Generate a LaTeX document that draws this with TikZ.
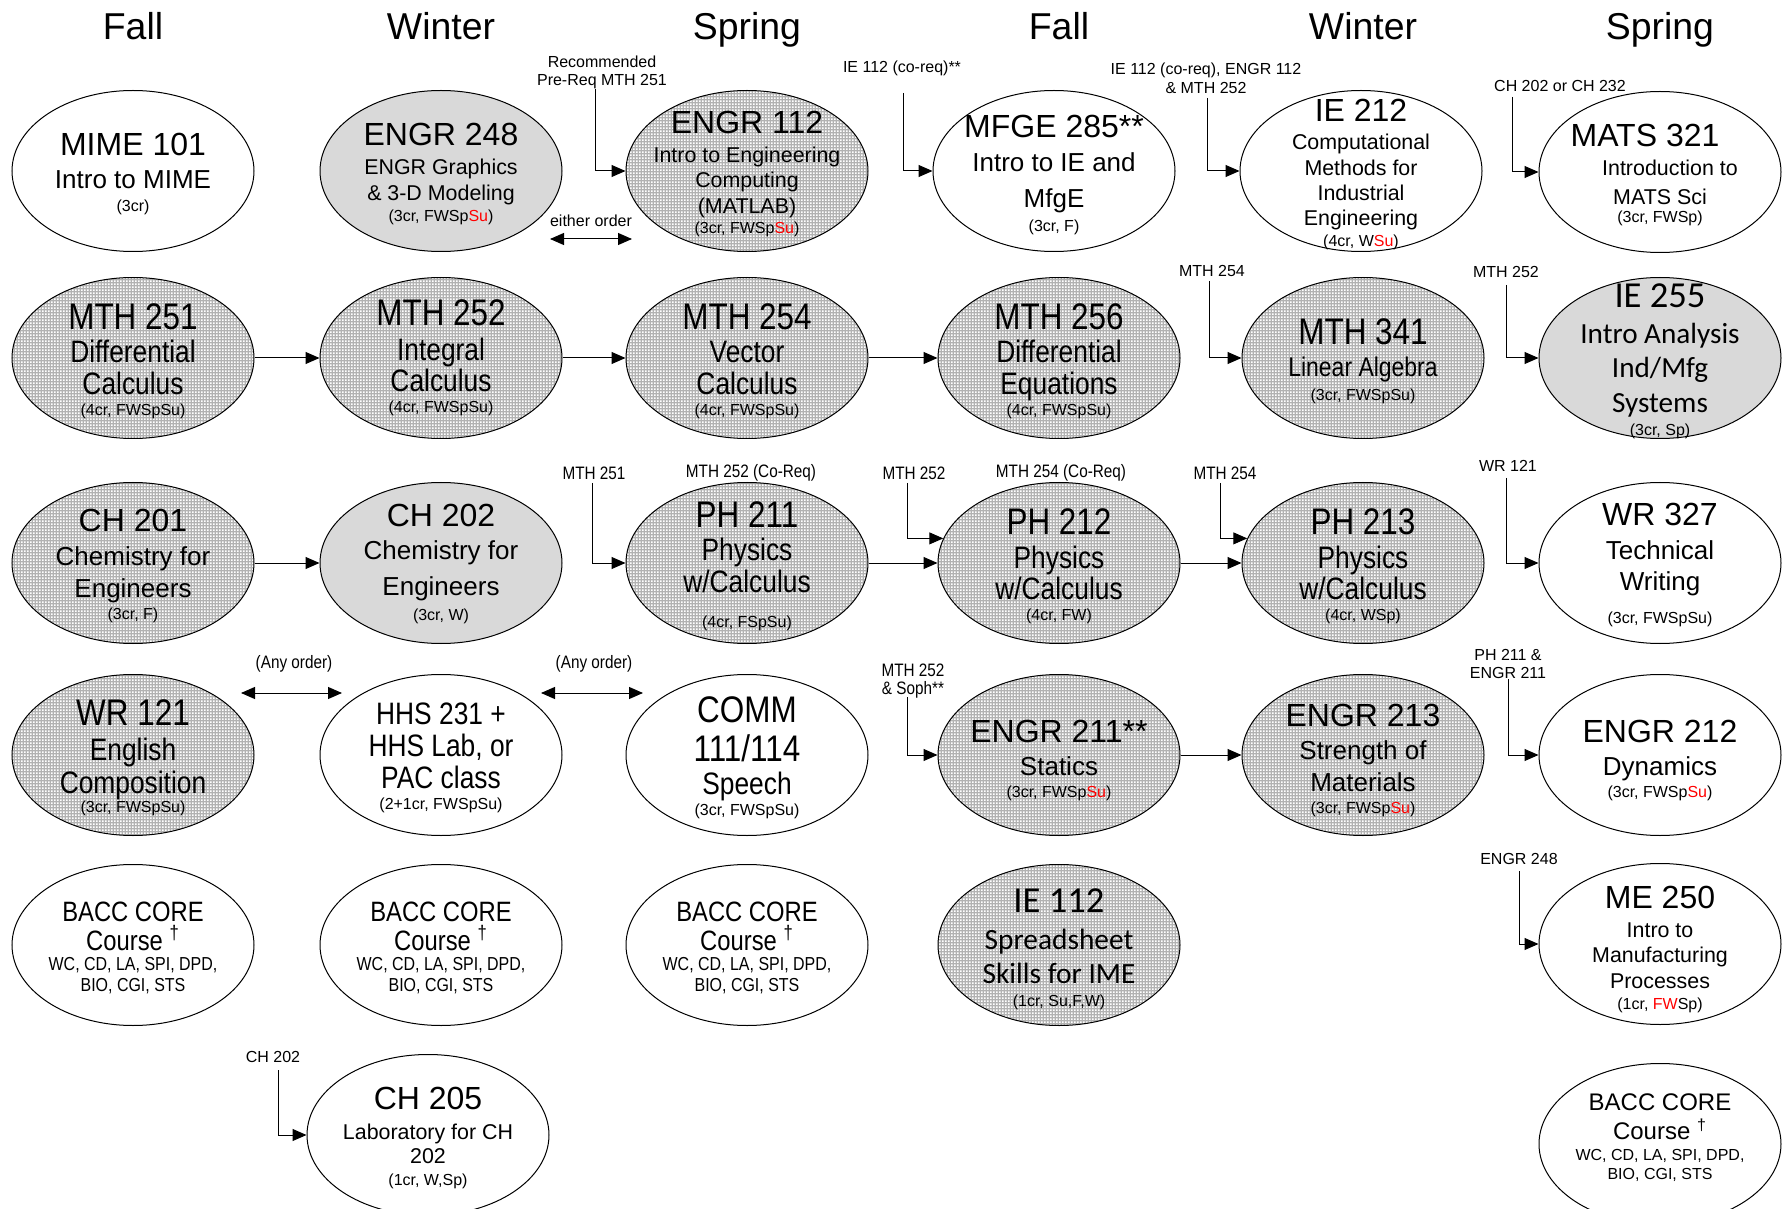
\documentclass[tikz,border=0pt]{standalone}
\usepackage{fontspec}
\setmainfont{Liberation Sans}
\newfontfamily\narrowsf{Liberation Sans}[FakeStretch=0.85]
\newfontfamily\calibrisf{Carlito}
\usetikzlibrary{arrows.meta}
\usetikzlibrary{shapes.geometric}
\usetikzlibrary{patterns}

% fine dot raster used for the core courses
\pgfdeclarepatternformonly{stipple}{\pgfqpoint{0pt}{0pt}}{\pgfqpoint{1.5pt}{1.5pt}}{\pgfqpoint{1.5pt}{1.5pt}}{%
  \pgfpathrectangle{\pgfqpoint{0pt}{0pt}}{\pgfqpoint{1pt}{1pt}}\pgfusepath{fill}}

\newcommand\fs[2]{\fontsize{#1}{#2}\selectfont}
\newcommand\codef{\fs{16}{16}}
\newcommand\subl{\fs{13}{13}}
\newcommand\subm{\fs{10.7}{11}}
\newcommand\credf{\fs{8}{8}}
\newcommand\ncode{\narrowsf\fs{18.5}{18}}
\newcommand\nsub{\narrowsf\fs{15.5}{15}}
\newcommand\hl[1]{\textcolor{red}{#1}}
\newcommand\tightlines{\fs{8}{0}\lineskiplimit=-100pt\relax}
\newcommand\baccn{\narrowsf\fs{14}{14}BACC CORE\\[14.2pt]\narrowsf\fs{14}{14}Course \textsuperscript{†}\\[10.3pt]%
  \narrowsf\fs{9.4}{9}WC, CD, LA, SPI, DPD,\\[10.2pt]\narrowsf\fs{9.4}{9}BIO, CGI, STS}

% ellipse + its text
\newcommand\course[5][0]{%
  \node[#3] (#2) at (#4) {};
  \node[ctext, yshift={-(#1+3)*0.5pt}] at (#2.center) {#5};}

\tikzset{
  course/.style={ellipse, draw, line width=0.5pt, minimum width=121pt, minimum height=80.5pt, inner sep=0pt},
  whitec/.style={course, fill=white},
  grayc/.style={course, fill=black!15},
  dotc/.style={course, preaction={fill=black!30}, pattern=stipple, pattern color=white},
  ctext/.style={align=center, font=\tightlines},
  hdr/.style={anchor=base, font=\fs{18.7}{20}},
  lbl/.style={align=center, font=\fs{8}{9.1}},
  nlbl/.style={align=center, font={\narrowsf\fs{9}{9.1}}},
  prereq/.style={-{Triangle[length=7pt,width=6pt]}, line width=0.5pt},
  anyorder/.style={{Triangle[length=7pt,width=6pt]}-{Triangle[length=7pt,width=6pt]}, line width=0.5pt}
}

\begin{document}
\begin{tikzpicture}[x=0.5pt, y=-0.5pt]
  \useasboundingbox (0,0) rectangle (1785,1209);

  % Terms
  \node[hdr] (t1) at (133,40) {Fall};
  \node[hdr] (t2) at (441,40) {Winter};
  \node[hdr] (t3) at (747,40) {Spring};
  \node[hdr] (t4) at (1059,40) {Fall};
  \node[hdr] (t5) at (1363,40) {Winter};
  \node[hdr] (t6) at (1660,40) {Spring};

  % First fall
  \course{mime101}{whitec}{133,171}{\codef MIME 101\\[16.5pt]\subl Intro to MIME\\[11.4pt]\credf (3cr)}
  \course{mth251}{dotc}{133,358}{\ncode MTH 251\\[16.7pt]\nsub Differential\\[15.9pt]\nsub Calculus\\[10.4pt]\credf (4cr, FWSpSu)}
  \course{ch201}{dotc}{133,563}{\codef CH 201\\[17pt]\subl Chemistry for\\[15.9pt]\subl Engineers\\[11.4pt]\credf (3cr, F)}
  \course{wr121}{dotc}{133,755}{\ncode WR 121\\[17.2pt]\nsub English\\[16.5pt]\nsub Composition\\[9.8pt]\credf (3cr, FWSpSu)}
  \course{bacca}{whitec}{133,945}{\baccn}

  % First winter
  \course{engr248}{grayc}{441,171}{\codef ENGR 248\\[14.6pt]\subm ENGR Graphics\\[13.1pt]\subm \& 3-D Modeling\\[10.4pt]\credf (3cr, FWSp\hl{Su})}
  \course[-3]{mth252}{dotc}{441,358}{\ncode MTH 252\\[17.2pt]\nsub Integral\\[15.9pt]\nsub Calculus\\[10.4pt]\credf (4cr, FWSpSu)}
  \course[-2]{ch202}{grayc}{441,563}{\codef CH 202\\[16.5pt]\subl Chemistry for\\[17.6pt]\subl Engineers\\[12.5pt]\credf (3cr, W)}
  \course{hhs231}{whitec}{441,755}{\nsub HHS 231 +\\[15.9pt]\nsub HHS Lab, or\\[15.9pt]\nsub PAC class\\[10.4pt]\credf (2+1cr, FWSpSu)}
  \course{baccb}{whitec}{441,945}{\baccn}
  \course{ch205}{whitec}{428,1135}{\codef CH 205\\[14.6pt]\subm Laboratory for CH\\[12pt]\subm 202\\[11pt]\credf (1cr, W,Sp)}

  % First spring
  \course{engr112}{dotc}{747,171}{\codef ENGR 112\\[14.6pt]\subm Intro to Engineering\\[12.5pt]\subm Computing\\[13.1pt]\subm (MATLAB)\\[9.8pt]\credf (3cr, FWSp\hl{Su})}
  \course{mth254}{dotc}{747,358}{\ncode MTH 254\\[16.7pt]\nsub Vector\\[15.9pt]\nsub Calculus\\[10.4pt]\credf (4cr, FWSpSu)}
  \course{ph211}{dotc}{747,563}{\ncode PH 211\\[16.7pt]\nsub Physics\\[15.9pt]\nsub w/Calculus\\[17.2pt]\credf (4cr, FSpSu)}
  \course{comm}{whitec}{747,755}{\ncode COMM\\[19.3pt]\ncode 111/114\\[16.7pt]\nsub Speech\\[10.4pt]\credf (3cr, FWSpSu)}
  \course{baccc}{whitec}{747,945}{\baccn}

  % Second fall
  \course[1]{mfge285}{whitec}{1054,171}{\codef MFGE 285**\\[17pt]\subl Intro to IE and\\[18.2pt]\subl MfgE\\[12pt]\credf (3cr, F)}
  \course{mth256}{dotc}{1059,358}{\ncode MTH 256\\[16.7pt]\nsub Differential\\[15.9pt]\nsub Equations\\[10.4pt]\credf (4cr, FWSpSu)}
  \course{ph212}{dotc}{1059,563}{\ncode PH 212\\[17.2pt]\nsub Physics\\[15.4pt]\nsub w/Calculus\\[10.4pt]\credf (4cr, FW)}
  \course[2.5]{engr211}{dotc}{1059,755}{\codef ENGR 211**\\[16.5pt]\subl Statics\\[11.4pt]\credf (3cr, FWSp\hl{Su})}
  \course[1]{ie112}{dotc}{1059,945}{\calibrisf\fs{18.3}{18}IE 112\\[18.7pt]\calibrisf\fs{14.7}{14}Spreadsheet\\[17.1pt]\calibrisf\fs{14.7}{14}Skills for IME\\[11.3pt]\credf (1cr, Su,F,W)}

  % Second winter
  \course{ie212}{whitec}{1361,171}{\codef IE 212\\[14pt]\subm Computational\\[13.1pt]\subm Methods for\\[12.5pt]\subm Industrial\\[12.5pt]\subm Engineering\\[10.4pt]\credf (4cr, W\hl{Su})}
  \course{mth341}{dotc}{1363,358}{\ncode MTH 341\\[16pt]\narrowsf\fs{13.5}{13}Linear Algebra\\[11.8pt]\credf (3cr, FWSpSu)}
  \course{ph213}{dotc}{1363,563}{\ncode PH 213\\[17.2pt]\nsub Physics\\[15.4pt]\nsub w/Calculus\\[10.4pt]\credf (4cr, WSp)}
  \course[2.5]{engr213}{dotc}{1363,755}{\codef ENGR 213\\[16.5pt]\subl Strength of\\[15.9pt]\subl Materials\\[11.4pt]\credf (3cr, FWSp\hl{Su})}

  % Second spring
  \course{mats321}{whitec}{1660,172}{\codef MATS 321\hspace*{15pt}\\[14.6pt]\subm\hspace*{10pt}Introduction to\\[14.2pt]\subm MATS Sci\\[9.3pt]\credf (3cr, FWSp)}
  \course{ie255}{grayc}{1660,358}{\calibrisf\fs{18.3}{18}IE 255\\[18.1pt]\calibrisf\fs{14.6}{14}Intro Analysis\\[17.1pt]\calibrisf\fs{14.6}{14}Ind/Mfg\\[17.6pt]\calibrisf\fs{14.6}{14}Systems\\[11.3pt]\credf (3cr, Sp)}
  \course[-1]{wr327}{whitec}{1660,563}{\codef WR 327\\[17pt]\subl Technical\\[15.9pt]\subl Writing\\[16.5pt]\credf (3cr, FWSpSu)}
  \course[2.5]{engr212}{whitec}{1660,755}{\codef ENGR 212\\[16.5pt]\subl Dynamics\\[11.4pt]\credf (3cr, FWSp\hl{Su})}
  \course[2.5]{me250}{whitec}{1660,944}{\codef ME 250\\[14.6pt]\subm Intro to\\[12.5pt]\subm Manufacturing\\[13.1pt]\subm Processes\\[10.4pt]\credf (1cr, \hl{FW}Sp)}
  \course[-9]{baccd}{whitec}{1660,1144}{\fs{12}{12}BACC CORE\\[14.2pt]\fs{12}{12}Course \textsuperscript{†}\\[10.5pt]\credf WC, CD, LA, SPI, DPD,\\[9.7pt]\credf BIO, CGI, STS}

  % Prerequisite notes
  \node[lbl] (n-engr112) at (602,72) {Recommended\\Pre-Req MTH 251};
  \node[lbl] (n-either) at (591,221) {either order};
  \node[lbl] (n-mfge285) at (902,68) {IE 112 (co-req)**};
  \node[lbl, font=\fs{8}{9.7}] (n-ie212) at (1206,78) {IE 112 (co-req), ENGR 112\\\& MTH 252};
  \node[lbl] (n-mats321) at (1560,86) {CH 202 or CH 232};
  \node[lbl] (n-mth341) at (1212,271) {MTH 254};
  \node[lbl] (n-ie255) at (1506,272) {MTH 252};
  \node[nlbl] (n-ph211) at (594,473) {MTH 251};
  \node[nlbl] (n-ph211co) at (751,473) {MTH 252 (Co-Req)};
  \node[nlbl] (n-ph212) at (914,473) {MTH 252};
  \node[nlbl] (n-ph212co) at (1061,473) {MTH 254 (Co-Req)};
  \node[nlbl] (n-ph213) at (1225,473) {MTH 254};
  \node[lbl] (n-wr327) at (1508,466) {WR 121};
  \node[nlbl] (n-any1) at (294,664) {(Any order)};
  \node[nlbl] (n-any2) at (594,664) {(Any order)};
  \node[nlbl] (n-engr211) at (913,681) {MTH 252\\\& Soph**};
  \node[lbl] (n-engr212) at (1508,664) {PH 211 \&\\ENGR 211};
  \node[lbl] (n-me250) at (1519,859) {ENGR 248};
  \node[lbl] (n-ch205) at (273,1057) {CH 202};

  % Sequences
  \draw[prereq] (mth251) -- (mth252);
  \draw[prereq] (mth252) -- (mth254);
  \draw[prereq] (mth254) -- (mth256);
  \draw[prereq] (ch201) -- (ch202);
  \draw[prereq] (ph211) -- (ph212);
  \draw[prereq] (ph212) -- (ph213);
  \draw[prereq] (engr211) -- (engr213);

  % Elbow prerequisites
  \coordinate (s-engr112) at (595,89);
  \coordinate (s-mfge285) at (903,93);
  \coordinate (s-ie212) at (1207,98);
  \coordinate (s-mats321) at (1512,97);
  \coordinate (s-mth341) at (1209,281);
  \coordinate (s-ie255) at (1506,285);
  \coordinate (s-ph211) at (592,483);
  \coordinate (s-ph212) at (907,483);
  \coordinate (s-ph213) at (1220,483);
  \coordinate (s-wr327) at (1506,478);
  \coordinate (s-engr211) at (907,697);
  \coordinate (s-engr212) at (1508,679);
  \coordinate (s-me250) at (1519,871);
  \coordinate (s-ch205) at (278,1070);
  \draw[prereq] (s-engr112) |- (engr112.west);
  \draw[prereq] (s-mfge285) |- (mfge285.west);
  \draw[prereq] (s-ie212) |- (ie212.west);
  \draw[prereq] (s-mats321) |- (mats321.west);
  \draw[prereq] (s-mth341) |- (mth341.west);
  \draw[prereq] (s-ie255) |- (ie255.west);
  \draw[prereq] (s-ph211) |- (ph211.west);
  \draw[prereq] (s-ph212) |- (ph212.168);
  \draw[prereq] (s-ph213) |- (ph213.168);
  \draw[prereq] (s-wr327) |- (wr327.west);
  \draw[prereq] (s-engr211) |- (engr211.west);
  \draw[prereq] (s-engr212) |- (engr212.west);
  \draw[prereq] (s-me250) |- (me250.west);
  \draw[prereq] (s-ch205) |- (ch205.west);

  % Either / any order
  \coordinate (e1) at (550,239);
  \coordinate (e2) at (632,239);
  \coordinate (a1) at (241,693);
  \coordinate (a2) at (342,693);
  \coordinate (a3) at (541,693);
  \coordinate (a4) at (643,693);
  \draw[anyorder] (e1) -- (e2);
  \draw[anyorder] (a1) -- (a2);
  \draw[anyorder] (a3) -- (a4);
\end{tikzpicture}
\end{document}
